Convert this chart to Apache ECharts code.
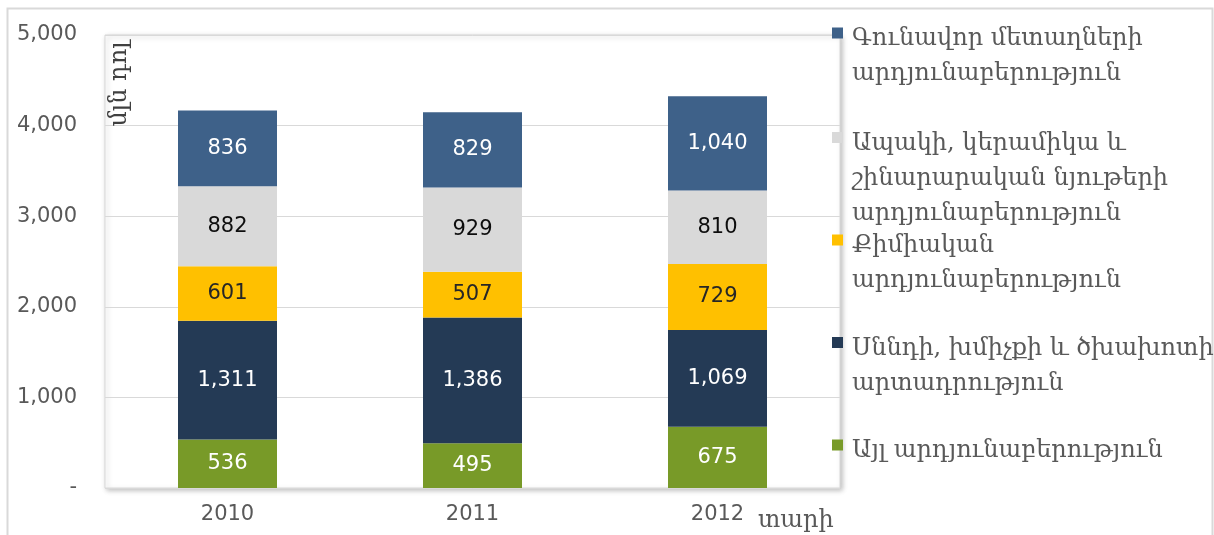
<!DOCTYPE html>
<html>
<head>
<meta charset="utf-8">
<script src="https://cdn.jsdelivr.net/npm/echarts@6/dist/echarts.min.js"></script>
<style>
html,body{margin:0;padding:0;background:#fff;}
#chart{width:1214px;height:535px;}
</style>
</head>
<body>
<div id="chart"></div>
<script>
const categories = ['2010', '2011', '2012'];
const otherValues = [536, 495, 675];
const foodValues = [1311, 1386, 1069];
const chemValues = [601, 507, 729];
const glassValues = [882, 929, 810];
const metalValues = [836, 829, 1040];
const yTickLabels = ['-', '1,000', '2,000', '3,000', '4,000', '5,000'];

const seriesNames = {
  metal: 'Գունավոր մետաղների արդյունաբերություն',
  glass: 'Ապակի, կերամիկա և շինարարական նյութերի արդյունաբերություն',
  chem: 'Քիմիական արդյունաբերություն',
  food: 'Սննդի, խմիչքի և ծխախոտի արտադրություն',
  other: 'Այլ արդյունաբերություն'
};
const legendLines = {
  metal: ['Գունավոր մետաղների', 'արդյունաբերություն'],
  glass: ['Ապակի, կերամիկա և', 'շինարարական նյութերի', 'արդյունաբերություն'],
  chem: ['Քիմիական', 'արդյունաբերություն'],
  food: ['Սննդի, խմիչքի և ծխախոտի', 'արտադրություն'],
  other: ['Այլ արդյունաբերություն']
};
const yAxisTitle = 'մլն դոլ';
const xAxisTitle = 'տարի';

const colors = {
  metal: '#3e6189',
  glass: '#d9d9d9',
  chem: '#ffc000',
  food: '#243a55',
  other: '#789a28'
};
const labelColors = {
  metal: '#ffffff',
  glass: '#0d0d0d',
  chem: '#262626',
  food: '#ffffff',
  other: '#ffffff'
};

const fmt = v => Number(v).toLocaleString('en-US');

function makeSeries(key, values) {
  return {
    name: seriesNames[key],
    type: 'bar',
    stack: 'total',
    barWidth: 99,
    data: values,
    itemStyle: { color: colors[key] },
    label: {
      show: true,
      position: 'inside',
      formatter: p => fmt(p.value),
      color: labelColors[key],
      fontFamily: 'DejaVu Sans',
      fontSize: 21
    },
    emphasis: { disabled: true }
  };
}

const LH = 35;
const EXTRA = 12;
const legendOrder = ['metal', 'glass', 'chem', 'food', 'other'];
const iconCenters = [33, 137.5, 240, 342.5, 445];
const legends = legendOrder.map((key, i) => {
  const n = legendLines[key].length;
  const gap = (n - 1) * LH + EXTRA;
  const top = iconCenters[i] - ((2 * n - 1) * LH + EXTRA) / 2;
  return {
    data: [seriesNames[key]],
    left: 832,
    top: top,
    orient: 'vertical',
    padding: 0,
    icon: 'rect',
    itemWidth: 11,
    itemHeight: 11,
    formatter: () => '{g| }\n' + legendLines[key].map(l => '{t|' + l + '}').join('\n'),
    textStyle: {
      rich: {
        g: { fontSize: 1, height: gap, lineHeight: gap },
        t: {
          fontFamily: 'DejaVu Serif',
          fontSize: 24,
          color: '#595959',
          lineHeight: LH,
          padding: [0, 0, 0, 4]
        }
      }
    }
  };
});

const chart = echarts.init(document.getElementById('chart'), null, { renderer: 'canvas' });
chart.setOption({
  animation: false,
  backgroundColor: '#ffffff',
  grid: {
    left: 105, right: 374, top: 35, bottom: 47,
    show: true,
    backgroundColor: '#ffffff',
    borderColor: '#d9d9d9',
    borderWidth: 1,
    shadowColor: 'rgba(0,0,0,0.25)',
    shadowBlur: 5,
    shadowOffsetX: 2,
    shadowOffsetY: 2
  },
  legend: legends,
  xAxis: {
    type: 'category',
    data: categories,
    axisLine: { show: false },
    axisTick: { show: false },
    axisLabel: {
      margin: 16,
      color: '#595959',
      fontFamily: 'DejaVu Sans',
      fontSize: 21
    }
  },
  yAxis: {
    type: 'value',
    min: 0,
    max: 5000,
    interval: 1000,
    axisLine: { show: false },
    axisTick: { show: false },
    splitLine: { lineStyle: { color: '#d9d9d9', width: 1 } },
    axisLabel: {
      margin: 28,
      color: '#595959',
      fontFamily: 'DejaVu Sans',
      fontSize: 21,
      formatter: v => yTickLabels[Math.round(v / 1000)]
    }
  },
  graphic: [
    {
      type: 'rect',
      z: -10,
      silent: true,
      shape: { x: 7.5, y: 8.5, width: 1205, height: 540 },
      style: { fill: 'none', stroke: '#d9d9d9', lineWidth: 2 }
    },
    {
      type: 'text',
      x: 120,
      y: 84,
      rotation: Math.PI / 2,
      z: 10,
      style: {
        text: yAxisTitle,
        align: 'center',
        verticalAlign: 'middle',
        fontFamily: 'DejaVu Serif',
        fontSize: 24,
        fill: '#404040'
      }
    },
    {
      type: 'text',
      x: 758,
      y: 521,
      z: 10,
      style: {
        text: xAxisTitle,
        align: 'left',
        verticalAlign: 'middle',
        fontFamily: 'DejaVu Serif',
        fontSize: 24,
        fill: '#595959'
      }
    }
  ],
  series: [
    makeSeries('other', otherValues),
    makeSeries('food', foodValues),
    makeSeries('chem', chemValues),
    makeSeries('glass', glassValues),
    makeSeries('metal', metalValues)
  ]
});
</script>
</body>
</html>
